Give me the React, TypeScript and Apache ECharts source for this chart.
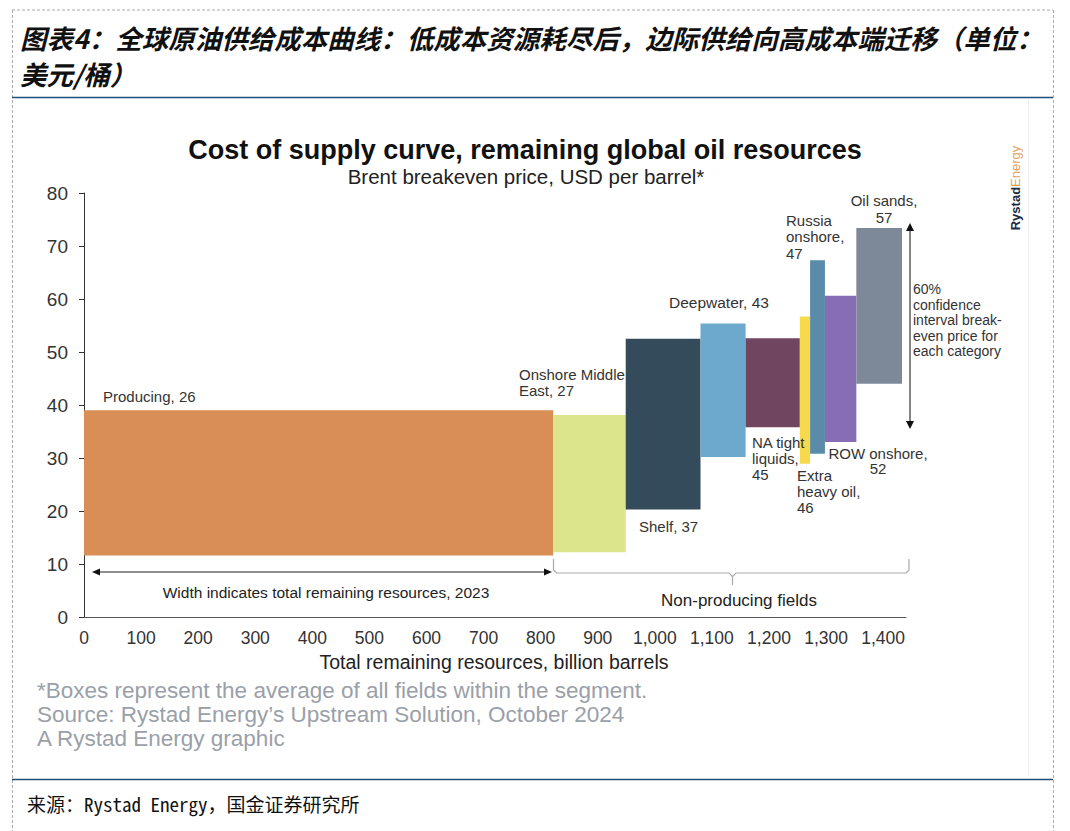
import React, { useEffect, useRef } from "react";
import * as echarts from "echarts";

// ---- data ----
const categories = [
  "Producing",
  "Onshore Middle East",
  "Shelf",
  "Deepwater",
  "NA tight liquids",
  "Extra heavy oil",
  "Russia onshore",
  "ROW onshore",
  "Oil sands",
];
const avgBreakeven = [26, 27, 37, 43, 45, 46, 47, 52, 57];
const resources = [822, 127, 131, 79, 95, 18, 26, 55, 80]; // billion barrels (box widths)
const lowPrice = [11.6, 12.2, 20.3, 30.2, 35.8, 28.9, 30.8, 33.0, 44.0];
const highPrice = [39.0, 38.1, 52.5, 55.4, 52.6, 56.7, 67.3, 60.6, 73.4];
const boxColors = [
  "#D98E56",
  "#DCE48C",
  "#344B5B",
  "#6DA9CD",
  "#6F4560",
  "#F6DA4C",
  "#5B8BA9",
  "#876DB3",
  "#7D8898",
];
const yTicks = [0, 10, 20, 30, 40, 50, 60, 70, 80];
const xTicks = [0, 100, 200, 300, 400, 500, 600, 700, 800, 900, 1000, 1100, 1200, 1300, 1400];

const FONT = "'Liberation Sans', Arial, sans-serif";
const CJK = "'Noto Sans CJK SC', 'Noto Sans CJK TC', sans-serif";

export default function App() {
  const ref = useRef<HTMLDivElement>(null);

  useEffect(() => {
    if (!ref.current) return;
    const chart = echarts.init(ref.current, undefined, { renderer: "svg" });

    let cum = 0;
    const boxData = categories.map((c, i) => {
      const x0 = cum;
      cum += resources[i];
      return [x0, cum, lowPrice[i], highPrice[i], avgBreakeven[i]];
    });

    const label = (
      x: number,
      y: number,
      text: string,
      align = "left",
      size = 15,
      color = "#333",
      lh = 16.5,
      z = 10
    ) => ({
      type: "text",
      x,
      y,
      z,
      silent: true,
      style: {
        text,
        fill: color,
        font: `${size}px ${FONT}`,
        textAlign: align,
        textVerticalAlign: "middle",
        lineHeight: lh,
      },
    });

    const lineEl = (x1: number, y1: number, x2: number, y2: number, stroke: string, lw = 1, dash?: number[]) => ({
      type: "line",
      silent: true,
      z: 10,
      shape: { x1, y1, x2, y2 },
      style: { stroke, lineWidth: lw, lineDash: dash },
    });

    const tri = (pts: number[][], fill = "#111") => ({
      type: "polygon",
      silent: true,
      z: 10,
      shape: { points: pts },
      style: { fill },
    });

    const fmt = (v: number) => String(v).replace(/\B(?=(\d{3})+(?!\d))/g, ",");

    const option: any = {
      animation: false,
      backgroundColor: "#ffffff",
      grid: { left: 84, right: 164, top: 193, bottom: 214, containLabel: false },
      xAxis: {
        type: "value",
        min: 0,
        max: 1440,
        interval: 100,
        axisLine: { show: true, lineStyle: { color: "#555", width: 1 } },
        axisTick: { show: false },
        splitLine: { show: false },
        axisLabel: {
          fontSize: 17.5,
          fontFamily: FONT,
          color: "#333",
          margin: 12,
          formatter: (v: number) => (xTicks.includes(v) ? fmt(v) : ""),
        },
      },
      yAxis: {
        type: "value",
        min: yTicks[0],
        max: yTicks[yTicks.length - 1],
        interval: 10,
        axisLine: { show: true, lineStyle: { color: "#333", width: 1 } },
        axisTick: { show: true, length: 5, lineStyle: { color: "#333" } },
        splitLine: { show: false },
        axisLabel: { fontSize: 19, fontFamily: FONT, color: "#333", margin: 16 },
      },
      series: [
        {
          type: "custom",
          name: "Cost of supply",
          z: 2,
          encode: { x: [0, 1], y: [2, 3] },
          data: boxData,
          renderItem: (params: any, api: any) => {
            const p0 = api.coord([api.value(0), api.value(3)]);
            const p1 = api.coord([api.value(1), api.value(2)]);
            return {
              type: "rect",
              shape: { x: p0[0], y: p0[1], width: p1[0] - p0[0], height: p1[1] - p0[1] },
              style: { fill: boxColors[params.dataIndex] },
            };
          },
        },
      ],
      graphic: [
        // outer dashed frame
        lineEl(12, 10, 1053, 10, "#aaaaaa", 1, [3, 2]),
        lineEl(12.5, 10, 12.5, 831, "#aaaaaa", 1, [3, 2]),
        lineEl(1053.5, 10, 1053.5, 831, "#aaaaaa", 1, [3, 2]),
        // navy rules
        lineEl(12, 97.5, 1053, 97.5, "#1F4E79", 1.5),
        lineEl(12, 779.5, 1053, 779.5, "#1F4E79", 1.5),
        // faint right edge of embedded image
        lineEl(1028.5, 100, 1028.5, 776, "#eeeeee", 1),
        // Chinese title
        {
          type: "text",
          x: 20,
          y: 37,
          silent: true,
          style: {
            text: "图表4：全球原油供给成本曲线：低成本资源耗尽后，边际供给向高成本端迁移（单位：",
            fill: "#111",
            font: `italic bold 26.5px ${CJK}`,
            textVerticalAlign: "middle",
          },
        },
        {
          type: "text",
          x: 20,
          y: 73,
          silent: true,
          style: {
            text: "美元/桶）",
            fill: "#111",
            font: `italic bold 26.5px ${CJK}`,
            textVerticalAlign: "middle",
          },
        },
        // chart title & subtitle
        {
          type: "text",
          x: 525,
          y: 150,
          silent: true,
          style: {
            text: "Cost of supply curve, remaining global oil resources",
            fill: "#111",
            font: `bold 27px ${FONT}`,
            textAlign: "center",
            textVerticalAlign: "middle",
          },
        },
        label(526, 176, "Brent breakeven price, USD per barrel*", "center", 20.5, "#222"),
        // Rystad logo
        {
          type: "text",
          x: 1015,
          y: 188,
          rotation: Math.PI / 2,
          silent: true,
          style: {
            text: "{a|Rystad}{b|Energy}",
            textAlign: "center",
            textVerticalAlign: "middle",
            rich: {
              a: { fill: "#1E2B45", font: `bold 13px ${FONT}` },
              b: { fill: "#E3A15D", font: `13px ${FONT}` },
            },
          },
        },
        // box labels
        label(103, 396, "Producing, 26"),
        label(519, 382.5, "Onshore Middle\nEast, 27", "left", 15, "#333", 16.5, 0),
        label(669, 302, "Deepwater, 43", "left", 15.5),
        label(639, 526, "Shelf, 37"),
        label(786, 236.5, "Russia\nonshore,\n47"),
        label(884, 209, "Oil sands,\n57", "center"),
        label(752, 458, "NA tight\nliquids,\n45", "left", 15, "#333", 16),
        label(797, 491, "Extra\nheavy oil,\n46", "left", 15, "#333", 16),
        label(878, 460.5, "ROW onshore,\n52", "center", 15, "#333", 15),
        label(913, 320, "60%\nconfidence\ninterval break-\neven price for\neach category", "left", 14, "#333", 15.5),
        // vertical double arrow
        lineEl(910, 230, 910, 422, "#333", 1.2),
        tri([[906, 231], [914, 231], [910, 223]]),
        tri([[906, 421], [914, 421], [910, 429]]),
        // horizontal double arrow
        lineEl(96, 572, 547, 572, "#222", 1.2),
        tri([[100, 568.5], [100, 575.5], [92, 572]]),
        tri([[544, 568.5], [544, 575.5], [552, 572]]),
        label(326, 592, "Width indicates total remaining resources, 2023", "center", 15.5, "#222"),
        // brace for non-producing fields
        {
          type: "polyline",
          silent: true,
          shape: { points: [[553.5, 559], [553.5, 570], [556.5, 573], [729, 573], [732.5, 576.5], [732.5, 585]] },
          style: { stroke: "#aaaaaa", lineWidth: 1.2, fill: null },
        },
        {
          type: "polyline",
          silent: true,
          shape: { points: [[732.5, 576.5], [736, 573], [906, 573], [909, 570], [909, 559]] },
          style: { stroke: "#aaaaaa", lineWidth: 1.2, fill: null },
        },
        label(739, 600, "Non-producing fields", "center", 17, "#222"),
        // axis name
        label(494, 662, "Total remaining resources, billion barrels", "center", 19.5, "#222"),
        // footnotes
        label(37, 690, "*Boxes represent the average of all fields within the segment.", "left", 22.5, "#9aa0a8"),
        label(37, 714, "Source: Rystad Energy\u2019s Upstream Solution, October 2024", "left", 22.5, "#9aa0a8"),
        label(37, 738, "A Rystad Energy graphic", "left", 22.5, "#9aa0a8"),
        // source line
        {
          type: "text",
          x: 27,
          y: 803,
          silent: true,
          style: {
            text: "来源：Rystad Energy，国金证券研究所",
            fill: "#111",
            font: `19px 'Noto Sans Mono CJK SC', 'Liberation Mono', ${CJK}`,
            textVerticalAlign: "middle",
          },
        },
      ],
    };

    chart.setOption(option);
    return () => chart.dispose();
  }, []);

  return (
    <div
      ref={ref}
      style={{ position: "fixed", left: 0, top: 0, width: 1070, height: 831, background: "#fff" }}
    />
  );
}
